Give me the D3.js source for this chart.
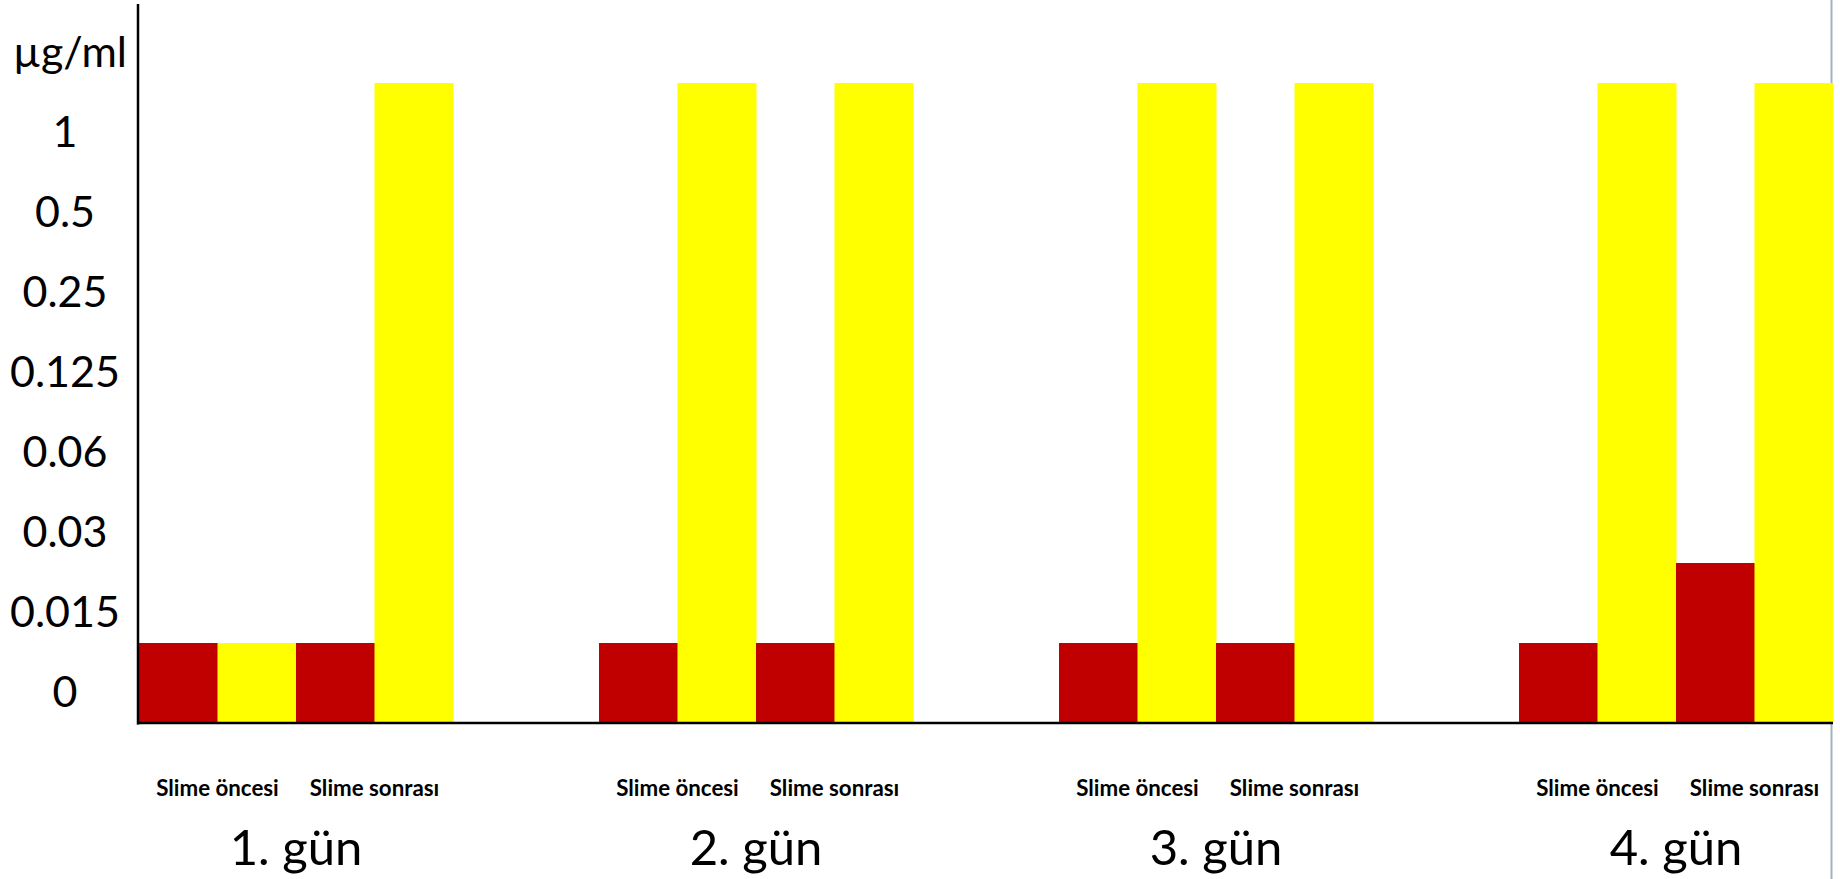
<!DOCTYPE html>
<html>
<head>
<meta charset="utf-8">
<script src="https://cdn.jsdelivr.net/npm/d3@7"></script>
<style>
  html, body { margin: 0; padding: 0; background: #fff; }
  svg { display: block; }
</style>
</head>
<body>
<script>
// ---- data ----
const days = ["1. gün", "2. gün", "3. gün", "4. gün"];
const conditions = ["Slime öncesi", "Slime sonrası"];
const yLevels = ["0", "0.015", "0.03", "0.06", "0.125", "0.25", "0.5", "1"];
const yUnit = "µg/ml";
// values per day, per condition [öncesi, sonrası], as MIC levels
const redValues = [
  ["0", "0"],
  ["0", "0"],
  ["0", "0"],
  ["0", "0.015"]
];
const yellowValues = [
  ["0", "1"],
  ["1", "1"],
  ["1", "1"],
  ["1", "1"]
];
const seriesNames = ["red", "yellow"];
const seriesColors = ["#c00000", "#ffff00"];

// ---- layout ----
const W = 1840, H = 879;
const plotLeft = 139, plotRight = 1833, plotBase = 723, plotTop = 83;

const svg = d3.select("body").append("svg").attr("width", W).attr("height", H);

// right frame line
svg.append("line").attr("x1", 1831.5).attr("x2", 1831.5).attr("y1", 0).attr("y2", H)
  .attr("stroke", "#9fb4b9").attr("stroke-width", 2);

const x0 = d3.scaleBand().domain(days).range([plotLeft, plotRight]).paddingInner(146 / 460).paddingOuter(0);
const x1 = d3.scaleBand().domain(conditions).range([0, x0.bandwidth()]);
const x2 = d3.scaleBand().domain(seriesNames).range([0, x1.bandwidth()]);
const y = d3.scaleBand().domain(yLevels).range([plotBase, plotTop]);

const color = d3.scaleOrdinal().domain(seriesNames).range(seriesColors);

const rows = [];
days.forEach((d, i) => {
  conditions.forEach((c, j) => {
    rows.push({ day: d, cond: c, series: "red", value: redValues[i][j] });
    rows.push({ day: d, cond: c, series: "yellow", value: yellowValues[i][j] });
  });
});

svg.append("g").selectAll("rect").data(rows).join("rect")
  .attr("x", r => x0(r.day) + x1(r.cond) + x2(r.series))
  .attr("width", x2.bandwidth() + 0.5)
  .attr("y", r => y(r.value))
  .attr("height", r => plotBase - y(r.value))
  .attr("fill", r => color(r.series));

// y axis labels (band centred, slightly shifted as in source)
const font = "Lato, 'Open Sans', sans-serif";
const yl = svg.append("g");
yl.selectAll("text").data(yLevels).join("text")
  .attr("x", 65)
  .attr("y", v => y(v) + y.bandwidth() / 2 + 24)
  .attr("text-anchor", "middle")
  .attr("font-family", font)
  .attr("font-size", 43)
  .attr("fill", "#000")
  .text(v => v);
yl.append("text")
  .attr("x", 70)
  .attr("y", y(yLevels[yLevels.length - 1]) - y.step() + y.bandwidth() / 2 + 24)
  .attr("text-anchor", "middle")
  .attr("font-family", font)
  .attr("font-size", 43)
  .text(yUnit);

// condition labels
const lab = svg.append("g");
days.forEach(d => {
  conditions.forEach(c => {
    lab.append("text")
      .attr("x", x0(d) + x1(c) + x1.bandwidth() / 2)
      .attr("y", 796)
      .attr("text-anchor", "middle")
      .attr("font-family", font)
      .attr("font-weight", "bold")
      .attr("font-size", 22.3)
      .text(c);
  });
  lab.append("text")
    .attr("x", x0(d) + x0.bandwidth() / 2)
    .attr("y", 865)
    .attr("text-anchor", "middle")
    .attr("font-family", font)
    .attr("font-size", 49)
    .text(d);
});

// axes lines
svg.append("line").attr("x1", 138).attr("x2", 138).attr("y1", 4).attr("y2", plotBase + 1.5)
  .attr("stroke", "#000").attr("stroke-width", 2.5);
svg.append("line").attr("x1", 137).attr("x2", plotRight).attr("y1", plotBase).attr("y2", plotBase)
  .attr("stroke", "#000").attr("stroke-width", 2.5);
</script>
</body>
</html>
